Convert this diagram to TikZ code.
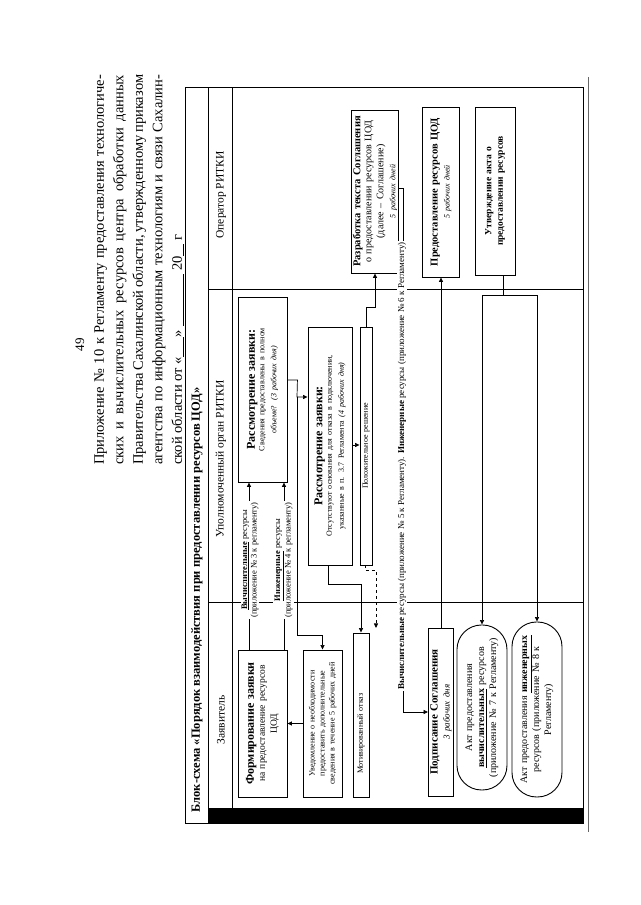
\documentclass[tikz,border=0pt]{standalone}
\usepackage{fontspec}
\setmainfont{Liberation Serif}
\usetikzlibrary{arrows.meta,calc}
\newcommand{\fsz}[2]{\fontsize{#1}{#2}\selectfont}
\begin{document}
\begin{tikzpicture}[x=1pt,y=1pt,
  box/.style={draw, line width=0.9pt, inner sep=1pt, align=center},
  pill/.style={box, rounded corners=24.5pt},
  conn/.style={line width=0.7pt},
  arr/.style={conn, -{Triangle[length=4.5pt,width=4pt]}},
  frm/.style={line width=0.8pt},
  lbl/.style={fill=white, inner sep=1pt, align=center},
  hdr/.style={font=\fsz{11.5}{13}},
]
\useasboundingbox (-640,0) rectangle (0,905);
\begin{scope}[rotate=90, transform shape]
\node[font=\fsz{13}{15}] (pnum) at (560,560) {49};
\node[anchor=north west, inner sep=0pt, text width=390pt, align=justify, font=\fsz{14.5}{19.5}] (head) at (440,546)
 {Приложение № 10 к Регламенту предоставления технологиче-\linebreak
  ских и вычислительных ресурсов центра обработки данных\linebreak
  Правительства Сахалинской области, утвержденному приказом\linebreak
  агентства по информационным технологиям и связи Сахалин-\linebreak
  ской области от «\underline{\hspace{20pt}}» \underline{\hspace{52pt}} 20\underline{\hspace{12pt}} г};
% frame
\draw[frm] (82,57) rectangle (818,455);
\draw[frm] (82,432) -- (818,432);
\draw[frm] (82,408) -- (818,408);
\draw[frm] (303,57) -- (303,432);
\draw[frm] (616,57) -- (616,432);
\fill (82,57) rectangle (97,432);
\draw[line width=0.5pt, black!60] (73,52) -- (828,52);
\node[anchor=west, font=\fsz{12.5}{14}\bfseries] (title) at (89,443) {Блок-схема «Порядок взаимодействия при предоставлении ресурсов ЦОД»};
\node[hdr] (h1) at (185,419) {Заявитель};
\node[hdr] (h2) at (446,419) {Уполномоченный орган РИТКИ};
\node[hdr] (h3) at (710,419) {Оператор РИТКИ};
% boxes
\node[box, minimum width=147pt, minimum height=49pt, text width=140pt] (form) at (181.5,377.5)
 {{\fsz{12}{13}\bfseries Формирование заявки}\\{\fsz{9.5}{11}на предоставление ресурсов\\ЦОД}};
\node[box, minimum width=147pt, minimum height=39pt, text width=140pt, font=\fsz{8}{10}] (uved) at (181.5,317.5)
 {Уведомление о необходимости\\предоставить дополнительные\\сведения в течение 5 рабочих дней};
\node[box, minimum width=164pt, minimum height=16pt, text width=158pt, align=left, font=\fsz{8}{9}] (motiv) at (190,279) {\hspace*{20pt}Мотивированный отказ};
\node[box, minimum width=168pt, minimum height=25pt, text width=162pt] (podp) at (193,199)
 {{\fsz{11}{12}\bfseries Подписание Соглашения}\\{\fsz{9}{10}\itshape 3 рабочих дня}};
\node[pill, minimum width=165pt, minimum height=50pt, text width=150pt, font=\fsz{10}{12}] (akt1) at (197.5,158)
 {Акт предоставления\\\textbf{\underline{вычислительных}} ресурсов\\(приложение № 7 к Регламенту)};
\node[pill, minimum width=175pt, minimum height=50pt, text width=160pt, font=\fsz{10}{12}] (akt2) at (195.5,103)
 {Акт предоставления \textbf{\underline{инженерных}}\\ресурсов (приложение № 8 к\\Регламенту)};
\node[box, minimum width=185pt, minimum height=49pt, text width=178pt] (r1) at (515.5,377.5)
 {{\fsz{12}{13}\bfseries Рассмотрение заявки:}\\{\fsz{8}{9.5}Сведения предоставлены в полном\\объеме? \textit{(3 рабочих дня)}}};
\node[box, minimum width=238pt, minimum height=44pt, text width=230pt] (r2) at (459,310)
 {{\fsz{12}{13}\bfseries Рассмотрение заявки:}\\{\fsz{8}{9.5}Отсутствуют основания для отказа в подключении,\\указанные в п. 3.7 Регламента \textit{(4 рабочих дня)}}};
\node[box, minimum width=238pt, minimum height=12pt, text width=230pt, font=\fsz{8}{9}] (polo) at (459,274) {Положительное решение};
\node[box, minimum width=163pt, minimum height=44pt, text width=158pt] (razr) at (713.5,265)
 {{\fsz{10.5}{11.5}\bfseries Разработка текста Соглашения}\\{\fsz{10}{11}о предоставлении ресурсов ЦОД\\(далее – Соглашение)}\\{\fsz{8}{9}\itshape 5 рабочих дней}};
\node[box, minimum width=170pt, minimum height=37pt, text width=164pt] (pred) at (713,199)
 {{\fsz{10.5}{12}\bfseries Предоставление ресурсов ЦОД}\\{\fsz{8}{9}\itshape 5 рабочих дней}};
\node[box, minimum width=168pt, minimum height=40pt, text width=162pt, font=\fsz{9.5}{11.5}\bfseries] (utv) at (714,145)
 {Утверждение акта о\\предоставлении ресурсов};
% connectors
\draw[arr] ($(form.east)+(0,13.5)$) -- ($(r1.west)+(0,13.5)$);
\draw[arr] ($(form.east)+(0,-21.5)$) -- ($(r1.west)+(0,-21.5)$);
\node[lbl, font=\fsz{8.5}{9.5}] (l1) at (345,390) {\textbf{\underline{Вычислительные}} ресурсы\\(приложение № 3 к регламенту)};
\node[lbl, font=\fsz{8.5}{9.5}] (l2) at (345,356.5) {\textbf{\underline{Инженерные}} ресурсы\\(приложение № 4 к регламенту)};
\draw[arr] (uved.north) -- (form.south);
\coordinate (j1) at (508,343);
\draw[arr] ($(r1.south)+(9.5,0)$) -- ++(0,-10) -- (j1) -- ($(r2.north)+(49,0)$);
\draw[arr] (j1) -- ++(-238,0) -- ++(0,-25.5) -- (uved.east);
\draw[arr] ($(r2.west)+(0,2)$) -- ++(-19,0) -- ++(0,-33) -- (motiv.east);
\coordinate (d7) at (277,264);
\draw[arr, dashed] ($(polo.west)+(0,1)$) -- ++(-5,0) -- ++(0,-11) -- (d7);
\draw[arr] (polo.east) -- ++(19,0) -- ++(0,-9) -- (razr.west);
\draw[arr] ($(r2.south)+(1,0)$) -- ($(polo.north)+(1,0)$);
\draw[arr] ($(razr.south)+(3.5,0)$) -- ++(0,-5) -- ++(-524,0) -- (podp.north);
\node[lbl, font=\fsz{9}{10}] (l3) at (439,238) {\textbf{Вычислительные} ресурсы (приложение № 5 к Регламенту). \textbf{Инженерные} ресурсы (приложение № 6 к Регламенту)};
\draw[arr] (podp.east) -- (pred.west);
\draw[arr] ($(utv.west)+(0,-8)$) -- ++(-20,0) -- ++(0,21) -- (akt1.east);
\draw[arr] ($(utv.west)+(-20,-8)$) -- ++(0,-34) -- (akt2.east);
\end{scope}
\end{tikzpicture}
\end{document}
